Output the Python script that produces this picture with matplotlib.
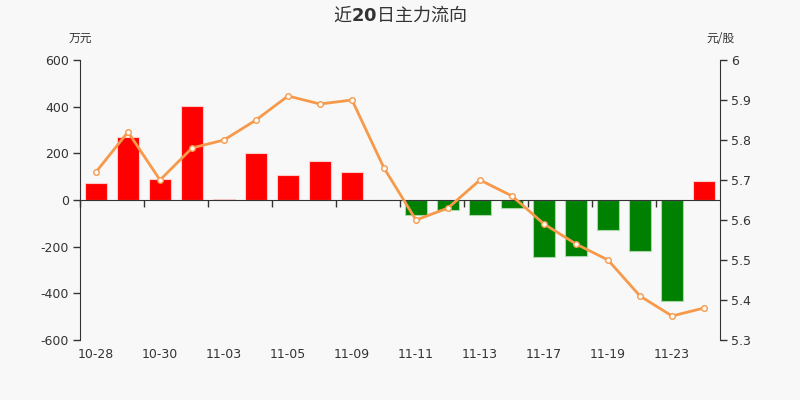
import numpy as np
import matplotlib
matplotlib.use('Agg')
import matplotlib.pyplot as plt
import matplotlib.transforms as mtransforms

plt.rcParams['font.family'] = ['DejaVu Sans', 'Noto Sans CJK SC']
plt.rcParams['mathtext.fontset'] = 'dejavusans'

# Data
dates = ['10-28', '10-29', '10-30', '11-02', '11-03', '11-04', '11-05', '11-06', '11-09', '11-10',
         '11-11', '11-12', '11-13', '11-16', '11-17', '11-18', '11-19', '11-20', '11-23', '11-24']
flow = [74, 268, 90, 404, 4, 201, 107, 167, 120, -2,
        -66, -41, -63, -36, -246, -241, -129, -219, -434, 80]  # 万元
price = [5.72, 5.82, 5.70, 5.78, 5.80, 5.85, 5.91, 5.89, 5.90, 5.73,
         5.60, 5.63, 5.70, 5.66, 5.59, 5.54, 5.50, 5.41, 5.36, 5.38]  # 元/股

left_ticks = [-600, -400, -200, 0, 200, 400, 600]
right_ticks = [5.3, 5.4, 5.5, 5.6, 5.7, 5.8, 5.9, 6]

bg = '#f8f8f8'
txt = '#333333'

fig = plt.figure(figsize=(8, 4), dpi=100, facecolor=bg)
ax = fig.add_axes([0.1, 0.15, 0.8, 0.7])
ax.set_facecolor(bg)

x = np.arange(len(dates))
colors = ['#ff0000' if v >= 0 else '#008000' for v in flow]
edges = ['#ffcccc' if v >= 0 else '#a8d8a8' for v in flow]
ax.bar(x, flow, width=0.69, color=colors, edgecolor=edges, linewidth=0.8, zorder=2)

ax.set_xlim(-0.5, len(dates) - 0.5)
ax.set_ylim(-600, 600)
ax.set_yticks(left_ticks)
ax.set_yticklabels([str(t) for t in left_ticks], fontsize=9, color=txt)
ax.tick_params(axis='y', direction='out', length=5, width=1, color=txt, pad=3)

for s in ['top', 'right']:
    ax.spines[s].set_visible(False)
ax.spines['left'].set_color(txt)
ax.spines['bottom'].set_position(('data', 0))
ax.spines['bottom'].set_color(txt)
ax.spines['bottom'].set_zorder(3)

# ticks at category boundaries every second day, labels at the bottom
ax.set_xticks(x[::2] - 0.5)
ax.set_xticklabels([])
ax.tick_params(axis='x', direction='out', length=5, width=1, color=txt)
trans = mtransforms.blended_transform_factory(ax.transData, ax.transAxes)
for i in x[::2]:
    ax.text(i, -0.05, dates[i], transform=trans, ha='center', va='center',
            fontsize=9, color=txt)

ax2 = ax.twinx()
ax2.plot(x, price, color='#f7994a', linewidth=2, marker='o', markersize=4,
         markerfacecolor='white', markeredgecolor='#f7994a', markeredgewidth=1, zorder=4)
ax2.set_ylim(5.3, 6.0)
ax2.set_yticks(right_ticks)
ax2.set_yticklabels(['5.3', '5.4', '5.5', '5.6', '5.7', '5.8', '5.9', '6'], fontsize=9, color=txt)
ax2.tick_params(axis='y', direction='out', length=5, width=1, color=txt, pad=3)
for s in ['top', 'left', 'bottom']:
    ax2.spines[s].set_visible(False)
ax2.spines['right'].set_color(txt)

fig.text(0.5, 0.963, r'近$\mathbf{20}$日主力流向', ha='center', va='center', fontsize=13,
         color=txt, family=['Noto Sans CJK SC', 'DejaVu Sans'])
fig.text(0.1, 0.905, '万元', ha='center', va='center', fontsize=8.5, color=txt,
         family=['Noto Sans CJK SC', 'DejaVu Sans'])
fig.text(0.9, 0.905, '元/股', ha='center', va='center', fontsize=8.5, color=txt,
         family=['Noto Sans CJK SC', 'DejaVu Sans'])

fig.savefig('out.png', dpi=100, facecolor=bg)
